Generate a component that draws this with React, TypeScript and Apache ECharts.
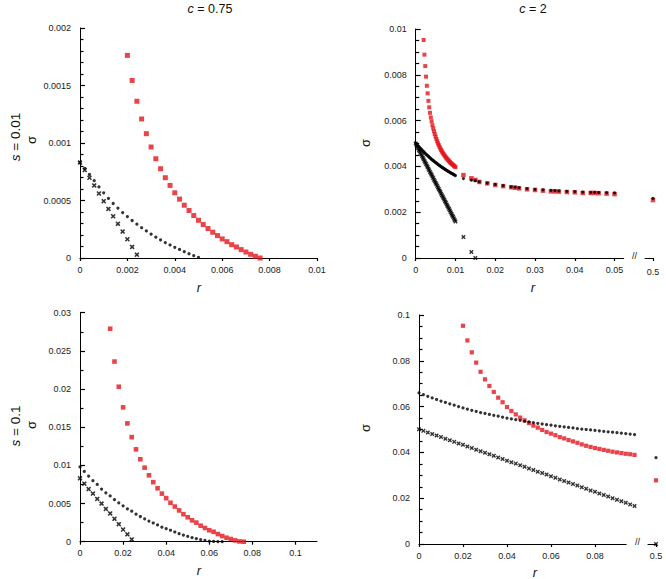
import React, { useEffect, useRef } from "react";
import * as echarts from "echarts";

// ---------- Panel 1: c = 0.75, s = 0.01 ----------
const p1RedR = [0.002, 0.0022, 0.0024, 0.0026, 0.0028, 0.003, 0.0032, 0.0034, 0.0036, 0.0038, 0.004, 0.0042, 0.0044, 0.0046, 0.0048, 0.005, 0.0052, 0.0054, 0.0056, 0.0058, 0.006, 0.0062, 0.0064, 0.0066, 0.0068, 0.007, 0.0072, 0.0074, 0.0076];
const p1Red = [0.001762, 0.001544, 0.001363, 0.001209, 0.001081, 0.000965, 0.000863, 0.000776, 0.000698, 0.000631, 0.000567, 0.000512, 0.000459, 0.000413, 0.000369, 0.000328, 0.000291, 0.000256, 0.000224, 0.000195, 0.000166, 0.000142, 0.000116, 0.000096, 0.000073, 0.000052, 0.000032, 0.000015, 0.0];
const p1DotR = [0, 0.0002, 0.0004, 0.0006, 0.0008, 0.001, 0.0012, 0.0014, 0.0016, 0.0018, 0.002, 0.0022, 0.0024, 0.0026, 0.0028, 0.003, 0.0032, 0.0034, 0.0036, 0.0038, 0.004, 0.0042, 0.0044, 0.0046, 0.0048, 0.005];
const p1Dot = [0.000831, 0.000779, 0.000726, 0.000672, 0.000618, 0.000567, 0.000518, 0.000474, 0.000434, 0.000395, 0.00036, 0.000326, 0.000294, 0.000263, 0.000235, 0.000207, 0.000181, 0.000157, 0.000134, 0.000113, 0.000093, 0.000074, 0.000055, 0.000037, 0.00002, 0.000006];
const p1CrossR = [0, 0.0002, 0.0004, 0.0006, 0.0008, 0.001, 0.0012, 0.0014, 0.0016, 0.0018, 0.002, 0.0022, 0.0024];
const p1Cross = [0.00083, 0.000765, 0.000698, 0.000631, 0.000561, 0.000494, 0.000427, 0.000363, 0.000297, 0.00023, 0.000163, 0.000096, 0.000029];

// ---------- Panel 2: c = 2, s = 0.01 ----------
const p2DenseR = [0, 0.0002, 0.0004, 0.0006, 0.0008, 0.001, 0.0012, 0.0014, 0.0016, 0.0018, 0.002, 0.0022, 0.0024, 0.0026, 0.0028, 0.003, 0.0032, 0.0034, 0.0036, 0.0038, 0.004, 0.0042, 0.0044, 0.0046, 0.0048, 0.005, 0.0052, 0.0054, 0.0056, 0.0058, 0.006, 0.0062, 0.0064, 0.0066, 0.0068, 0.007, 0.0072, 0.0074, 0.0076, 0.0078, 0.008, 0.0082, 0.0084, 0.0086, 0.0088, 0.009, 0.0092, 0.0094, 0.0096, 0.0098, 0.01];
const p2RedDense = [0.00952, 0.00888, 0.00838, 0.00792, 0.00752, 0.00719, 0.00686, 0.00658, 0.00634, 0.00614, 0.00597, 0.0058, 0.00566, 0.00553, 0.00541, 0.0053, 0.0052, 0.0051, 0.00501, 0.00493, 0.00485, 0.00478, 0.00471, 0.00465, 0.00459, 0.00454, 0.00449, 0.00444, 0.00439, 0.00435, 0.00431, 0.00427, 0.00423, 0.00419, 0.00415, 0.00412, 0.00409, 0.00406, 0.00403, 0.004, 0.00397];
const p2DotDense = [0.00502, 0.00498, 0.00494, 0.0049, 0.00486, 0.00482, 0.00478, 0.00475, 0.00471, 0.00467, 0.00464, 0.0046, 0.00457, 0.00453, 0.0045, 0.00447, 0.00444, 0.0044, 0.00437, 0.00434, 0.00431, 0.00428, 0.00425, 0.00423, 0.0042, 0.00417, 0.00414, 0.00412, 0.00409, 0.00406, 0.00404, 0.00401, 0.00399, 0.00396, 0.00394, 0.00392, 0.00389, 0.00387, 0.00385, 0.00383, 0.0038, 0.00378, 0.00376, 0.00374, 0.00372, 0.0037, 0.00368, 0.00366, 0.00364, 0.00362, 0.0036];
const p2CrossDense = [0.005, 0.00493, 0.00486, 0.00479, 0.00472, 0.00466, 0.00459, 0.00452, 0.00445, 0.00438, 0.00431, 0.00424, 0.00417, 0.00411, 0.00404, 0.00397, 0.0039, 0.00383, 0.00376, 0.00369, 0.00363, 0.00356, 0.00349, 0.00342, 0.00335, 0.00329, 0.00322, 0.00315, 0.00308, 0.00301, 0.00295, 0.00288, 0.00281, 0.00274, 0.00268, 0.00261, 0.00254, 0.00247, 0.00241, 0.00234, 0.00227, 0.0022, 0.00214, 0.00207, 0.002, 0.00193, 0.00186, 0.0018, 0.00173, 0.00166, 0.00159];
const p2SparseR = [0.012, 0.014, 0.015, 0.016, 0.018, 0.02, 0.022, 0.024, 0.025, 0.026, 0.028, 0.03, 0.032, 0.034, 0.035, 0.036, 0.038, 0.04, 0.042, 0.044, 0.045, 0.046, 0.048, 0.05];
const p2RedSparse = [0.00362, 0.00348, 0.00341, 0.00332, 0.00326, 0.00319, 0.00314, 0.00309, 0.00307, 0.00304, 0.003, 0.00297, 0.00294, 0.00291, 0.00291, 0.0029, 0.00288, 0.00287, 0.00284, 0.00284, 0.00284, 0.00283, 0.00281, 0.00279];
const p2DotSparse = [0.00347, 0.0034, 0.00338, 0.00333, 0.00327, 0.00321, 0.00316, 0.00311, 0.00309, 0.00307, 0.00303, 0.003, 0.00297, 0.00295, 0.00294, 0.00293, 0.00291, 0.0029, 0.00288, 0.00287, 0.00287, 0.00286, 0.00285, 0.00284];
const p2CrossSparseR = [0.012, 0.014, 0.015];
const p2CrossSparse = [0.00092, 0.00026, 0];
const p2BreakR = [0.5];
const p2RedBreak = [0.00253];
const p2DotBreak = [0.0026];

// ---------- Panel 3: c = 0.75, s = 0.1 ----------
const p3RedR = [0.014, 0.016, 0.018, 0.02, 0.022, 0.024, 0.026, 0.028, 0.03, 0.032, 0.034, 0.036, 0.038, 0.04, 0.042, 0.044, 0.046, 0.048, 0.05, 0.052, 0.054, 0.056, 0.058, 0.06, 0.062, 0.064, 0.066, 0.068, 0.07, 0.072, 0.074, 0.076];
const p3Red = [0.0279, 0.0236, 0.0203, 0.0176, 0.0155, 0.0137, 0.0121, 0.0108, 0.0097, 0.0087, 0.0078, 0.007, 0.0063, 0.0057, 0.0051, 0.0046, 0.0041, 0.0036, 0.0032, 0.0028, 0.0025, 0.0021, 0.0018, 0.0015, 0.0013, 0.001, 0.00074, 0.00052, 0.00035, 0.00017, 0.00004, 0];
const p3DotR = [0, 0.002, 0.004, 0.006, 0.008, 0.01, 0.012, 0.014, 0.016, 0.018, 0.02, 0.022, 0.024, 0.026, 0.028, 0.03, 0.032, 0.034, 0.036, 0.038, 0.04, 0.042, 0.044, 0.046, 0.048, 0.05, 0.052, 0.054, 0.056, 0.058, 0.06, 0.062, 0.064, 0.066];
const p3Dot = [0.0098, 0.0092, 0.0086, 0.008, 0.0075, 0.0069, 0.0064, 0.006, 0.0055, 0.0051, 0.0047, 0.0043, 0.004, 0.0036, 0.0033, 0.003, 0.0027, 0.00245, 0.0022, 0.0019, 0.0017, 0.0015, 0.00127, 0.00105, 0.00087, 0.0007, 0.00052, 0.00039, 0.00026, 0.00017, 0.00009, 0.00004, 0.00001, 0];
const p3CrossR = [0, 0.002, 0.004, 0.006, 0.008, 0.01, 0.012, 0.014, 0.016, 0.018, 0.02, 0.022, 0.024];
const p3Cross = [0.0083, 0.0076, 0.0069, 0.0063, 0.0056, 0.005, 0.0043, 0.0037, 0.003, 0.0023, 0.0016, 0.00096, 0.0003];

// ---------- Panel 4: c = 2, s = 0.1 ----------
const p4R = [0, 0.002, 0.004, 0.006, 0.008, 0.01, 0.012, 0.014, 0.016, 0.018, 0.02, 0.022, 0.024, 0.026, 0.028, 0.03, 0.032, 0.034, 0.036, 0.038, 0.04, 0.042, 0.044, 0.046, 0.048, 0.05, 0.052, 0.054, 0.056, 0.058, 0.06, 0.062, 0.064, 0.066, 0.068, 0.07, 0.072, 0.074, 0.076, 0.078, 0.08, 0.082, 0.084, 0.086, 0.088, 0.09, 0.092, 0.094, 0.096, 0.098];
const p4Red = [0.0953, 0.0889, 0.0837, 0.0792, 0.0752, 0.0719, 0.069, 0.0664, 0.0639, 0.0619, 0.0598, 0.0581, 0.0566, 0.0552, 0.054, 0.0528, 0.0517, 0.0508, 0.0498, 0.0489, 0.0482, 0.0475, 0.0467, 0.0461, 0.0454, 0.0448, 0.0442, 0.0435, 0.0429, 0.0424, 0.0419, 0.0415, 0.0411, 0.0407, 0.0403, 0.04, 0.0397, 0.0394, 0.0392, 0.0389];
const p4Dot = [0.066, 0.0652, 0.0645, 0.0638, 0.0631, 0.0624, 0.0618, 0.0612, 0.0606, 0.06, 0.0594, 0.0589, 0.0584, 0.0579, 0.0574, 0.057, 0.0566, 0.0562, 0.0558, 0.0554, 0.055, 0.0546, 0.0543, 0.054, 0.0536, 0.0533, 0.053, 0.0527, 0.0524, 0.0521, 0.0519, 0.0516, 0.0514, 0.0511, 0.0509, 0.0507, 0.0504, 0.0502, 0.05, 0.0498, 0.0496, 0.0494, 0.0492, 0.049, 0.0488, 0.0486, 0.0484, 0.0482, 0.048, 0.0478];
const p4Cross = [0.0501, 0.0494, 0.0487, 0.048, 0.0474, 0.0467, 0.046, 0.0453, 0.0446, 0.0439, 0.0433, 0.0426, 0.0419, 0.0412, 0.0405, 0.0398, 0.0392, 0.0385, 0.0378, 0.0371, 0.0364, 0.0357, 0.0351, 0.0344, 0.0337, 0.033, 0.0323, 0.0316, 0.031, 0.0303, 0.0296, 0.0289, 0.0282, 0.0275, 0.0269, 0.0262, 0.0255, 0.0248, 0.0241, 0.0234, 0.0228, 0.0221, 0.0214, 0.0207, 0.02, 0.0193, 0.0187, 0.018, 0.0173, 0.0166];
const p4BreakR = [0.5];
const p4RedBreak = [0.0278];
const p4DotBreak = [0.0377];
const p4CrossBreak = [0];

// ---------- Tick labels ----------
const p1XTicks = [0, 0.002, 0.004, 0.006, 0.008, 0.01];
const p2XTicks = [0, 0.01, 0.02, 0.03, 0.04, 0.05];
const p3XTicks = [0, 0.02, 0.04, 0.06, 0.08, 0.1];
const p4XTicks = [0, 0.02, 0.04, 0.06, 0.08];
const breakTicks = [0.5];

const FONT = '"Liberation Sans", Arial, Helvetica, sans-serif';
const RED = "#e3151c";
const CROSS = "path://M0,2.2L2.2,0L5,2.8L7.8,0L10,2.2L7.2,5L10,7.8L7.8,10L5,7.2L2.2,10L0,7.8L2.8,5Z";

const zip = (xs: number[], ys: number[]) => ys.map((y, i) => [xs[i], y]);

const labelStyle = { fontSize: 9, color: "#1a1a1a", fontFamily: FONT };

function xAxis(gridIndex: number, min: number, max: number, ticks: number[], margin = 7) {
  return {
    type: "value",
    gridIndex,
    min,
    max,
    axisLine: { show: true, lineStyle: { color: "#000" } },
    axisTick: { show: true, length: 3, customValues: ticks, lineStyle: { color: "#000", width: 1.2 } },
    axisLabel: { ...labelStyle, margin, customValues: ticks },
    splitLine: { show: false },
  };
}

function yAxis(gridIndex: number, max: number, interval: number, split: number) {
  return {
    type: "value",
    gridIndex,
    min: 0,
    max,
    interval,
    axisLine: { show: true, lineStyle: { color: "#000" } },
    axisTick: { show: true, inside: true, length: 5, lineStyle: { color: "#000", width: 1.2 } },
    minorTick: { show: true, splitNumber: split, length: 3.5, lineStyle: { color: "#000", width: 1.2 } },
    splitLine: { show: false },
    axisLabel: { ...labelStyle, margin: 9 },
  };
}

function hiddenY(gridIndex: number, max: number) {
  return { type: "value", gridIndex, min: 0, max, show: false, splitLine: { show: false } };
}

function scatter(idx: number, data: number[][], kind: "red" | "dot" | "cross", size: number) {
  const base: any = {
    type: "scatter",
    xAxisIndex: idx,
    yAxisIndex: idx,
    data,
    clip: false,
    silent: true,
    symbolSize: size,
  };
  if (kind === "red") {
    base.symbol = "rect";
    base.itemStyle = { color: RED };
    base.z = 2;
  } else if (kind === "dot") {
    base.symbol = "circle";
    base.itemStyle = { color: "#000" };
    base.z = 3;
  } else {
    base.symbol = CROSS;
    base.itemStyle = { color: "#000" };
    base.z = 3;
  }
  return base;
}

function txt(x: number, y: number, text: string, size: number, rotate = 0, rich = false) {
  return {
    type: "text",
    x,
    y,
    rotation: rotate,
    silent: true,
    style: {
      text,
      fontSize: size,
      fontFamily: FONT,
      fill: "#111",
      align: "center",
      verticalAlign: "middle",
      ...(rich
        ? { rich: { i: { fontStyle: "italic", fontSize: size, fontFamily: FONT, fill: "#111" }, n: { fontSize: size, fontFamily: FONT, fill: "#111" } } }
        : {}),
    },
  };
}

export default function App() {
  const ref = useRef<HTMLDivElement>(null);
  useEffect(() => {
    if (!ref.current) return;
    const chart = echarts.init(ref.current, undefined, { renderer: "svg" });
    const g = (left: number, top: number, width: number, height: number) => ({ left, top, width, height });
    const option: any = {
      animation: false,
      grid: [
        g(80, 28, 237, 230),
        g(415.7, 29, 208, 229),
        g(645, 29, 8, 229),
        g(80, 312.7, 237, 229),
        g(419, 315, 207.2, 229),
        g(648, 315, 8, 229),
      ],
      xAxis: [
        xAxis(0, 0, 0.01, p1XTicks),
        xAxis(1, 0, 0.0523, p2XTicks),
        xAxis(2, 0.498, 0.5, breakTicks, 9),
        xAxis(3, 0, 0.11, p3XTicks),
        xAxis(4, 0, 0.0942, p4XTicks),
        xAxis(5, 0.498, 0.5, breakTicks),
      ],
      yAxis: [
        yAxis(0, 0.002, 0.0005, 5),
        yAxis(1, 0.01, 0.002, 4),
        hiddenY(2, 0.01),
        yAxis(3, 0.03, 0.005, 2),
        yAxis(4, 0.1, 0.02, 4),
        hiddenY(5, 0.1),
      ],
      series: [
        scatter(0, zip(p1RedR, p1Red), "red", 5),
        scatter(0, zip(p1DotR, p1Dot), "dot", 3.2),
        scatter(0, zip(p1CrossR, p1Cross), "cross", 5),

        scatter(1, zip(p2DenseR.slice(10), p2RedDense), "red", 4),
        scatter(1, zip(p2SparseR, p2RedSparse), "red", 4.5),
        scatter(1, zip(p2DenseR, p2DotDense), "dot", 3.2),
        scatter(1, zip(p2SparseR, p2DotSparse), "dot", 3.2),
        scatter(1, zip(p2DenseR, p2CrossDense), "cross", 4.5),
        scatter(1, zip(p2CrossSparseR, p2CrossSparse), "cross", 4.5),
        scatter(2, zip(p2BreakR, p2RedBreak), "red", 4.5),
        scatter(2, zip(p2BreakR, p2DotBreak), "dot", 3.2),

        scatter(3, zip(p3RedR, p3Red), "red", 4.6),
        scatter(3, zip(p3DotR, p3Dot), "dot", 3.2),
        scatter(3, zip(p3CrossR, p3Cross), "cross", 5),

        scatter(4, zip(p4R.slice(10), p4Red), "red", 4.2),
        scatter(4, zip(p4R, p4Dot), "dot", 3.2),
        scatter(4, zip(p4R, p4Cross), "cross", 4.5),
        scatter(5, zip(p4BreakR, p4RedBreak), "red", 4.2),
        scatter(5, zip(p4BreakR, p4DotBreak), "dot", 3.2),
        scatter(5, zip(p4BreakR, p4CrossBreak), "cross", 4.5),
      ],
      graphic: [
        txt(210, 9, "{i|c}{n| = 0.75}", 12.5, 0, true),
        txt(533, 9, "{i|c}{n| = 2}", 12.5, 0, true),
        txt(15, 137, "{i|s}{n| = 0.01}", 13.5, Math.PI / 2, true),
        txt(15, 426, "{i|s}{n| = 0.1}", 13.5, Math.PI / 2, true),
        txt(31, 140, "σ", 13, Math.PI / 2),
        txt(365, 143, "σ", 13, Math.PI / 2),
        txt(31, 425, "σ", 13, Math.PI / 2),
        txt(365, 428, "σ", 13, Math.PI / 2),
        txt(199, 287, "{i|r}", 13, 0, true),
        txt(533, 287, "{i|r}", 13, 0, true),
        txt(199, 570, "{i|r}", 13, 0, true),
        txt(535, 572, "{i|r}", 13, 0, true),
        txt(634.5, 256, "//", 9),
        txt(637.5, 542, "//", 9),
      ],
    };
    chart.setOption(option);
    return () => chart.dispose();
  }, []);
  return (
    <div
      ref={ref}
      style={{ position: "absolute", left: 0, top: 0, width: 666, height: 579, background: "#fff" }}
    />
  );
}
